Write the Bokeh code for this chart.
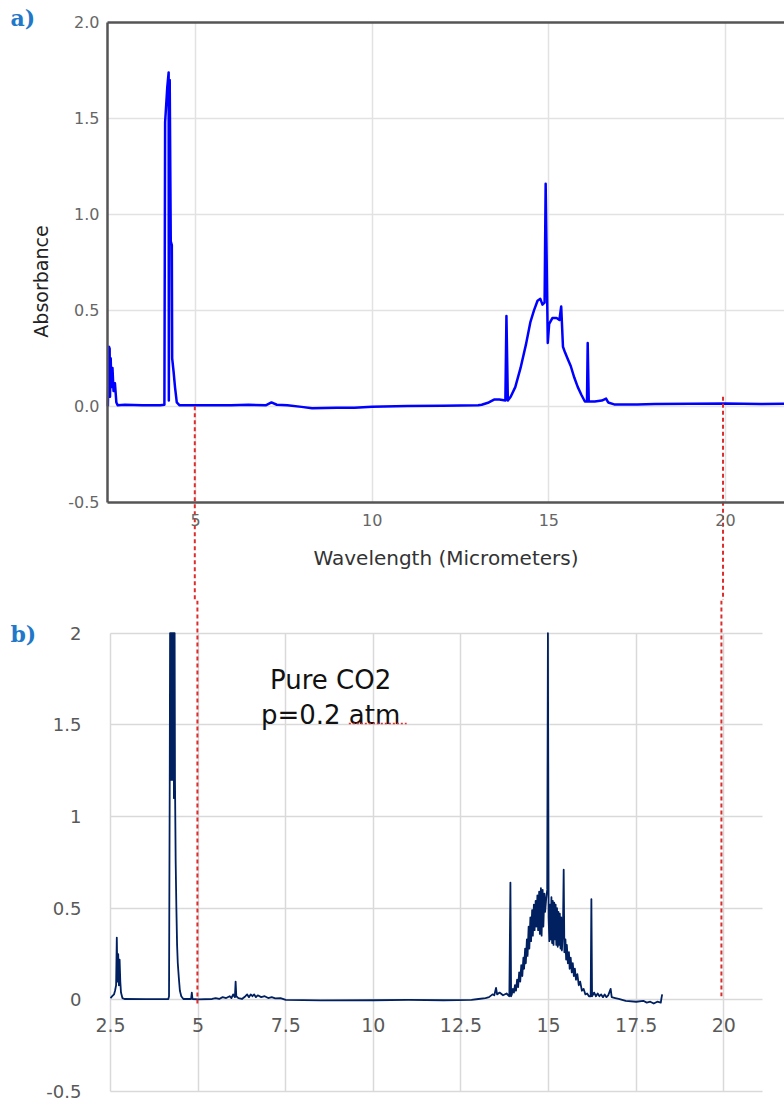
from bokeh.plotting import figure
from bokeh.layouts import column
from bokeh.models import Range1d, FixedTicker, NumeralTickFormatter, LinearAxis
from bokeh.core.properties import value
from bokeh.embed import file_html
from bokeh.resources import INLINE

# ---------------- data: panel a (FTIR absorbance spectrum) ----------------
wavelength_a = [2.52, 2.55, 2.57, 2.58, 2.60, 2.62, 2.65, 2.68, 2.72, 2.76, 2.80,
                3.00, 3.50, 4.00, 4.12, 4.14, 4.20, 4.24, 4.245, 4.27, 4.30, 4.33,
                4.34, 4.38, 4.42, 4.47, 4.55, 5.00, 6.00, 6.50, 7.00, 7.15, 7.30,
                7.60, 8.00, 8.30, 9.00, 9.50, 10.00, 11.00, 12.00, 13.00, 13.10,
                13.30, 13.45, 13.60, 13.77, 13.80, 13.84, 13.92, 14.05, 14.20, 14.35,
                14.48, 14.58, 14.68, 14.76, 14.82, 14.88, 14.91, 14.97, 15.01, 15.10,
                15.22, 15.30, 15.35, 15.40, 15.46, 15.55, 15.62, 15.72, 15.82, 15.92,
                16.02, 16.08, 16.10, 16.13, 16.30, 16.50, 16.62, 16.68, 16.85, 17.50,
                18.00, 19.00, 20.00, 21.00, 21.70]
absorbance_a = [0.00, 0.31, 0.30, 0.05, 0.25, 0.10, 0.20, 0.08, 0.12, 0.02, 0.005,
                0.008, 0.006, 0.005, 0.008, 1.48, 1.66, 1.74, 0.03, 1.70, 0.86, 0.84,
                0.25, 0.18, 0.10, 0.02, 0.005, 0.005, 0.005, 0.008, 0.006, 0.02, 0.008,
                0.005, -0.003, -0.010, -0.008, -0.007, -0.002, 0.002, 0.003, 0.005, 0.008,
                0.02, 0.035, 0.035, 0.03, 0.47, 0.03, 0.05, 0.10, 0.20, 0.32,
                0.44, 0.50, 0.55, 0.56, 0.53, 0.54, 1.16, 0.33, 0.43, 0.46,
                0.46, 0.45, 0.52, 0.31, 0.28, 0.24, 0.21, 0.15, 0.10, 0.06,
                0.025, 0.025, 0.33, 0.025, 0.025, 0.03, 0.04, 0.02, 0.01, 0.01,
                0.012, 0.013, 0.015, 0.012, 0.013]

# ---------------- data: panel b (pure CO2, p = 0.2 atm) ----------------
wavelength_b = [2.50, 2.55, 2.60, 2.63, 2.66, 2.68, 2.70, 2.72, 2.74, 2.76, 2.78, 2.80,
                2.84, 2.90, 3.50, 4.00, 4.15, 4.17, 4.19, 4.20, 4.21, 4.22, 4.23, 4.24,
                4.25, 4.26, 4.27, 4.28, 4.29, 4.30, 4.31, 4.32, 4.33, 4.34, 4.36, 4.38,
                4.40, 4.42, 4.45, 4.48, 4.52, 4.58, 4.80, 4.82, 4.84, 5.00, 5.40, 5.50,
                5.60, 5.70, 5.80, 5.90, 5.95, 6.00, 6.05, 6.07, 6.09, 6.15, 6.25, 6.35,
                6.40, 6.45, 6.50, 6.55, 6.60, 6.65, 6.70, 6.80, 6.90, 7.00, 7.10, 7.20,
                7.35, 7.50, 8.50, 10.00, 11.00, 12.00, 12.80, 13.00, 13.20, 13.30, 13.40,
                13.45, 13.50, 13.53, 13.60, 13.70, 13.80, 13.88, 13.91, 13.93, 13.95,
                13.98, 14.01, 14.04, 14.07, 14.10, 14.13, 14.16, 14.19, 14.22, 14.25,
                14.28, 14.30, 14.33, 14.35, 14.38, 14.40, 14.43, 14.45, 14.48, 14.50,
                14.53, 14.55, 14.58, 14.60, 14.63, 14.65, 14.68, 14.70, 14.73, 14.75,
                14.78, 14.80, 14.83, 14.85, 14.88, 14.90, 14.93, 14.96, 14.98, 15.00,
                15.02, 15.04, 15.06, 15.08, 15.10, 15.12, 15.14, 15.16, 15.18, 15.20,
                15.22, 15.24, 15.26, 15.28, 15.30, 15.32, 15.34, 15.36, 15.38, 15.41,
                15.43, 15.45, 15.48, 15.50, 15.52, 15.55, 15.58, 15.60, 15.63, 15.66,
                15.69, 15.72, 15.75, 15.78, 15.82, 15.86, 15.90, 15.95, 16.00, 16.05,
                16.10, 16.15, 16.20, 16.22, 16.24, 16.30, 16.35, 16.40, 16.45, 16.50,
                16.55, 16.60, 16.65, 16.70, 16.77, 16.80, 16.90, 17.00, 17.20, 17.50,
                17.70, 17.80, 17.90, 18.00, 18.10, 18.20, 18.22, 18.24]
absorbance_b = [0.01, 0.02, 0.03, 0.05, 0.08, 0.34, 0.10, 0.25, 0.08, 0.22, 0.10, 0.04,
                0.01, 0.005, 0.004, 0.004, 0.005, 0.02, 1.18, 2.0, 1.25, 2.0, 1.2, 2.0,
                1.2, 2.0, 1.2, 2.0, 1.3, 2.0, 1.1, 2.0, 2.0, 1.2, 0.75, 0.50,
                0.30, 0.20, 0.12, 0.05, 0.02, 0.005, 0.005, 0.04, 0.005, 0.003, 0.005, 0.01,
                0.005, 0.015, 0.01, 0.02, 0.01, 0.03, 0.015, 0.10, 0.02, 0.01, 0.005, 0.02,
                0.03, 0.015, 0.03, 0.02, 0.03, 0.015, 0.025, 0.015, 0.02, 0.01, 0.015, 0.008,
                0.01, 0.0, -0.003, -0.002, 0.0, -0.002, 0.0, 0.005, 0.01, 0.015, 0.03,
                0.025, 0.065, 0.03, 0.04, 0.025, 0.035, 0.02, 0.64, 0.02, 0.03,
                0.06, 0.04, 0.08, 0.05, 0.11, 0.07, 0.15, 0.10, 0.19, 0.13,
                0.23, 0.17, 0.28, 0.20, 0.33, 0.24, 0.40, 0.28, 0.45, 0.32,
                0.49, 0.35, 0.52, 0.38, 0.54, 0.40, 0.57, 0.38, 0.59, 0.36,
                0.61, 0.35, 0.60, 0.40, 0.58, 0.48, 0.55, 0.60, 2.0, 0.45,
                0.32, 0.52, 0.33, 0.56, 0.31, 0.54, 0.30, 0.53, 0.33, 0.52,
                0.30, 0.50, 0.29, 0.48, 0.30, 0.47, 0.28, 0.45, 0.27, 0.40,
                0.71, 0.26, 0.33, 0.22, 0.30, 0.20, 0.26, 0.17, 0.23, 0.15,
                0.20, 0.13, 0.17, 0.11, 0.14, 0.08, 0.10, 0.05, 0.06, 0.03,
                0.035, 0.02, 0.02, 0.55, 0.02, 0.04, 0.02, 0.035, 0.02, 0.03,
                0.015, 0.03, 0.015, 0.025, 0.06, 0.015, 0.01, 0.005, -0.005, -0.01,
                -0.005, -0.015, -0.01, -0.02, -0.01, -0.015, 0.01, 0.03]

# dashed guide lines (wavelength positions and where they end)
guide_x = [4.98, 19.93]
guide_start_a = [0.0, 0.05]
guide_end_b = [-0.03, 0.02]

# ticks
a_x_ticks = [5, 10, 15, 20]
a_y_ticks = [-0.5, 0.0, 0.5, 1.0, 1.5, 2.0]
a_grid_y = [0.0, 0.5, 1.0, 1.5]
b_x_ticks = [2.5, 5, 7.5, 10, 12.5, 15, 17.5, 20]
b_y_ticks = [-0.5, 0, 0.5, 1, 1.5, 2]

W = 784
H1 = 600
H2 = 501

TICK_FONT = "DejaVu Sans"

# ======================= panel a =======================
p1 = figure(width=W, height=H1, x_range=Range1d(-0.519, 21.67), y_range=Range1d(-1.012, 2.1146),
            output_backend="svg", toolbar_location=None, min_border=0,
            outline_line_color=None, background_fill_color="white", border_fill_color="white")

xa = p1.xaxis[0]
xa.fixed_location = -0.5
xa.ticker = FixedTicker(ticks=a_x_ticks)
xa.bounds = (2.51, 21.67)
xa.axis_line_color = "#555555"
xa.axis_line_width = 2.5
xa.major_tick_line_color = None
xa.minor_tick_line_color = None
xa.major_tick_out = 0
xa.major_tick_in = 0
xa.major_label_standoff = 12
xa.major_label_text_font = TICK_FONT
xa.major_label_text_font_size = "16px"
xa.major_label_text_color = "#666666"
xa.axis_label = "Wavelength (Micrometers)"
xa.axis_label_text_font = TICK_FONT
xa.axis_label_text_font_size = "20px"
xa.axis_label_text_font_style = "normal"
xa.axis_label_text_color = "#333333"
xa.axis_label_standoff = 16

ya = p1.yaxis[0]
ya.fixed_location = 2.51
ya.ticker = FixedTicker(ticks=a_y_ticks)
ya.formatter = NumeralTickFormatter(format="0.0")
ya.bounds = (-0.5, 2.0)
ya.axis_line_color = "#555555"
ya.axis_line_width = 2.5
ya.major_tick_line_color = None
ya.minor_tick_line_color = None
ya.major_tick_out = 0
ya.major_tick_in = 0
ya.major_label_standoff = 8
ya.major_label_text_font = TICK_FONT
ya.major_label_text_font_size = "16px"
ya.major_label_text_color = "#666666"

# separate, line-less axis that only carries the "Absorbance" title
ya_title = LinearAxis(fixed_location=2.51, ticker=FixedTicker(ticks=[]), bounds=(-0.5, 1.8),
                      axis_line_color=None, major_tick_line_color=None,
                      minor_tick_line_color=None, major_label_text_color=None,
                      axis_label="Absorbance", axis_label_text_font=TICK_FONT,
                      axis_label_text_font_size="19px", axis_label_text_font_style="normal",
                      axis_label_text_color="#222222", axis_label_standoff=56)
p1.add_layout(ya_title, "left")

top_border = LinearAxis(fixed_location=2.0, ticker=FixedTicker(ticks=[]), bounds=(2.51, 21.67),
                        axis_line_color="#555555", axis_line_width=2.5,
                        major_tick_line_color=None, minor_tick_line_color=None,
                        major_label_text_color=None)
p1.add_layout(top_border, "above")

p1.xgrid.ticker = FixedTicker(ticks=a_x_ticks)
p1.xgrid.cross_bounds = (-0.5, 2.0)
p1.ygrid.ticker = FixedTicker(ticks=a_grid_y)
p1.ygrid.cross_bounds = (2.51, 21.67)
for g in (p1.xgrid[0], p1.ygrid[0]):
    g.grid_line_color = "#e2e2e2"
    g.grid_line_width = 1.5

p1.line(wavelength_a, absorbance_a, line_color="#0000ff", line_width=2.5, line_join="round")

p1.segment(x0=guide_x, y0=guide_start_a, x1=guide_x, y1=[p1.y_range.start] * len(guide_x),
           line_color="#dd2c2c", line_width=2, line_dash="4 3")

p1.text(x=[-0.236], y=[2.021], text=["a)"], text_font=value("DejaVu Serif"),
        text_font_style="bold", text_font_size="22px", text_color="#1f78c8",
        text_baseline="middle", text_align="left")

# ======================= panel b =======================
p2 = figure(width=W, height=H2, x_range=Range1d(-0.638, 21.73), y_range=Range1d(-0.554, 2.178),
            output_backend="svg", toolbar_location=None, min_border=0,
            outline_line_color=None, background_fill_color="white", border_fill_color="white")

xb = p2.xaxis[0]
xb.fixed_location = 0
xb.ticker = FixedTicker(ticks=b_x_ticks)
xb.formatter = NumeralTickFormatter(format="0.[0]")
xb.axis_line_color = None
xb.major_tick_line_color = None
xb.minor_tick_line_color = None
xb.major_tick_out = 0
xb.major_tick_in = 0
xb.major_label_standoff = 18
xb.major_label_text_font = TICK_FONT
xb.major_label_text_font_size = "19px"
xb.major_label_text_color = "#595959"

yb = p2.yaxis[0]
yb.fixed_location = 2.5
yb.ticker = FixedTicker(ticks=b_y_ticks)
yb.formatter = NumeralTickFormatter(format="0.[0]")
yb.axis_line_color = None
yb.major_tick_line_color = None
yb.minor_tick_line_color = None
yb.major_tick_out = 0
yb.major_tick_in = 0
yb.major_label_standoff = 29
yb.major_label_text_font = TICK_FONT
yb.major_label_text_font_size = "18px"
yb.major_label_text_color = "#595959"

p2.xgrid.ticker = FixedTicker(ticks=b_x_ticks)
p2.xgrid.cross_bounds = (-0.5, 2.0)
p2.ygrid.ticker = FixedTicker(ticks=b_y_ticks)
p2.ygrid.cross_bounds = (2.5, 21.1)
for g in (p2.xgrid[0], p2.ygrid[0]):
    g.grid_line_color = "#d9d9d9"
    g.grid_line_width = 1.5

p2.line(wavelength_b, absorbance_b, line_color="#002060", line_width=1.8, line_join="round")

p2.segment(x0=guide_x, y0=[p2.y_range.end] * len(guide_x), x1=guide_x, y1=guide_end_b,
           line_color="#dd2c2c", line_width=2, line_dash="4 3")

p2.text(x=[8.78, 8.78], y=[1.742, 1.551], text=["Pure CO2", "p=0.2 atm"],
        text_font=value(TICK_FONT), text_font_size="26px", text_color="#111111",
        text_align="center", text_baseline="alphabetic")
# spell-check squiggle under "atm"
p2.line(x=[9.3, 10.95], y=[1.507, 1.507], line_color="#e03030", line_width=1.5, line_dash="2 2")

p2.text(x=[-0.353], y=[1.993], text=["b)"], text_font=value("DejaVu Serif"),
        text_font_style="bold", text_font_size="22px", text_color="#1f78c8",
        text_baseline="middle", text_align="left")

layout = column(p1, p2, spacing=0)

with open("out.html", "w") as f:
    f.write(file_html(layout, INLINE))
